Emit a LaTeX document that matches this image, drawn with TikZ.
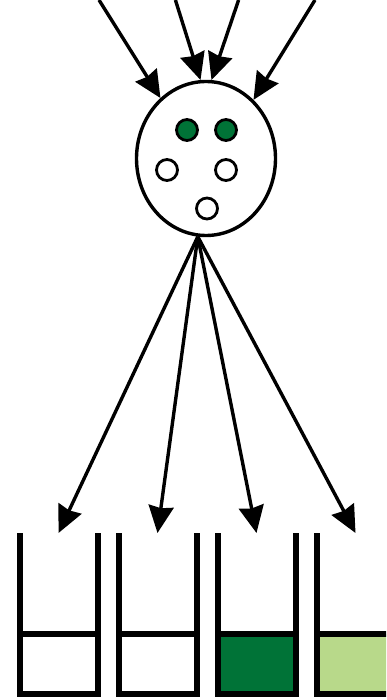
\documentclass[tikz,border=0pt]{standalone}
\usepackage{xcolor}
\usepackage{tikz}
\usetikzlibrary{arrows.meta, shapes.geometric, calc}

\definecolor{dkgreen}{RGB}{0,115,55}
\definecolor{ltgreen}{RGB}{184,217,138}

\begin{document}
\begin{tikzpicture}[
    x=1pt, y=-1pt,
    >={Stealth[length=27pt, width=25pt, inset=2pt]},
    cellnode/.style={draw, ellipse, line width=3.4pt, minimum width=139, minimum height=154, inner sep=0pt},
    dot/.style={draw, circle, line width=2.8pt, minimum size=21, inner sep=0pt, fill=#1},
    dot/.default=white,
    tube/.style={minimum width=78, minimum height=161, inner sep=0pt, outer sep=0pt},
    wall/.style={line width=6pt},
    arr/.style={->, line width=3.4pt},
]
\clip (0,0) rectangle (386,700);

% Cell with five spots
\node[cellnode] (cell) at (206,158.5) {};
\node[dot=dkgreen] (g1) at (187,130) {};
\node[dot=dkgreen] (g2) at (226,130) {};
\node[dot] (o1) at (167,170) {};
\node[dot] (o2) at (226,170) {};
\node[dot] (o3) at (207,208.5) {};

% Inputs from above
\coordinate (in1) at (99,0);
\coordinate (in2) at (175.4,0);
\coordinate (in3) at (238.6,0);
\coordinate (in4) at (315,0);

\draw[arr] (in1) -- (cell.127);
\draw[arr] (in2) -- (cell.94);
\draw[arr] (in3) -- (cell.86);
\draw[arr] (in4) -- (cell.51);

% Tubes with levels
\foreach \i/\x/\c in {1/58.5/white, 2/157.5/white, 3/256.5/dkgreen, 4/355.5/ltgreen} {
  \node[tube] (t\i) at (\x,613.5) {};
  \fill[\c] (t\i.south west) rectangle ([yshift=60pt]t\i.south east);
  \draw[wall] ([yshift=60pt]t\i.south west) -- ([yshift=60pt]t\i.south east);
  \draw[wall] (t\i.north west) |- (t\i.south east) -- (t\i.north east);
}

% Outputs to tubes
\foreach \i in {1,...,4}
  \draw[arr] (cell.264) -- (t\i.north);

\end{tikzpicture}
\end{document}
